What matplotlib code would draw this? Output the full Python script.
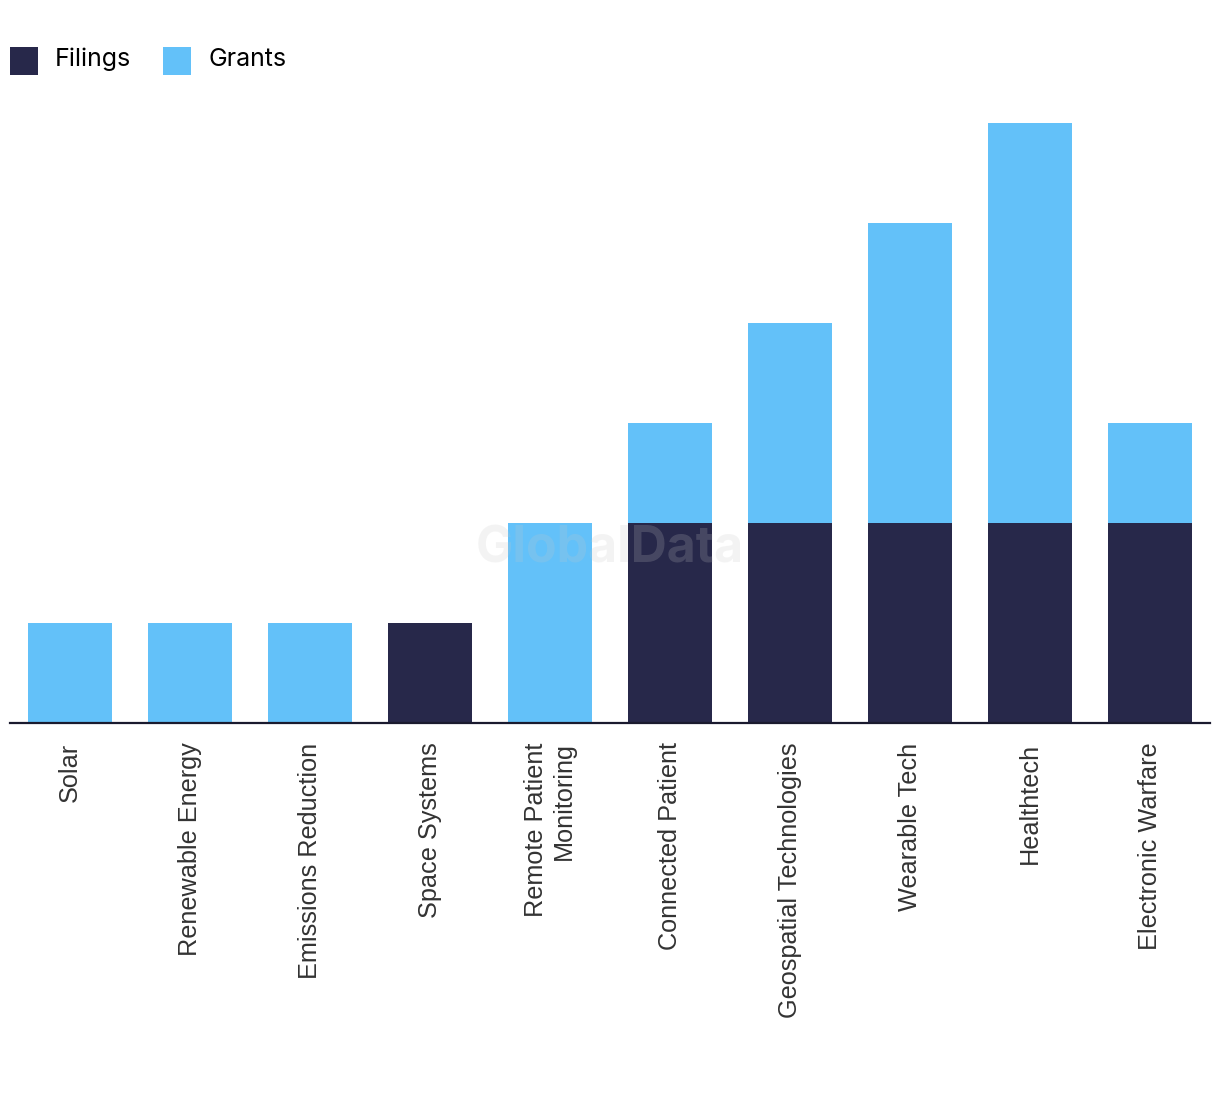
import matplotlib
matplotlib.use("Agg")
import matplotlib.pyplot as plt
from matplotlib.patches import Patch

categories = ["Solar", "Renewable Energy", "Emissions Reduction", "Space Systems",
              "Remote Patient\nMonitoring", "Connected Patient", "Geospatial Technologies",
              "Wearable Tech", "Healthtech", "Electronic Warfare"]
filings = [0, 0, 0, 1, 0, 2, 2, 2, 2, 2]
grants = [1, 1, 1, 0, 2, 1, 2, 3, 4, 1]

dark = "#27284A"
light = "#63C1F9"

W, H = 1220, 1094
fig = plt.figure(figsize=(W / 100, H / 100), dpi=100)
ax = fig.add_axes([10 / W, (H - 723) / H, 1200 / W, 600 / H])

x = list(range(len(categories)))
ax.bar(x, filings, width=0.7, color=dark, zorder=2)
ax.bar(x, grants, width=0.7, bottom=filings, color=light, zorder=2)

ax.set_xlim(-0.5, len(categories) - 0.5)
ax.set_ylim(0, 6)
for s in ["top", "right", "left"]:
    ax.spines[s].set_visible(False)
ax.spines["bottom"].set_color("#1a1a2e")
ax.spines["bottom"].set_linewidth(1.6)
ax.set_yticks([])
ax.set_xticks(x)
ax.set_xticklabels(categories, rotation=90, fontsize=18.2, color="#333333",
                   family=["Liberation Sans", "DejaVu Sans"], va="top", ha="center",
                   multialignment="right")
ax.tick_params(axis="x", length=0, pad=14)

ax.text(0.5, 0.29, "GlobalData", transform=ax.transAxes, ha="center", va="center",
        fontsize=36, fontweight="bold", color="#c7c7c7", alpha=0.2, zorder=5,
        family=["Inter", "DejaVu Sans"])

handles = [Patch(facecolor=dark, label="Filings"), Patch(facecolor=light, label="Grants")]
fig.legend(handles=handles, loc="upper left", bbox_to_anchor=(10 / W, 1 - 45 / H), ncol=2,
           frameon=False, handlelength=1.12, handleheight=1.12,
           handletextpad=0.68, columnspacing=1.28, borderaxespad=0, borderpad=0,
           handler_map={Patch: matplotlib.legend_handler.HandlerPatch(
               patch_func=lambda legend, orig_handle, xdescent, ydescent, width, height, fontsize:
               matplotlib.patches.Rectangle((-xdescent, -ydescent - 0.2 * width), width, width))},
           prop={"family": ["Inter", "DejaVu Sans"], "size": 18})

fig.savefig("out.png", dpi=100, facecolor="white")
